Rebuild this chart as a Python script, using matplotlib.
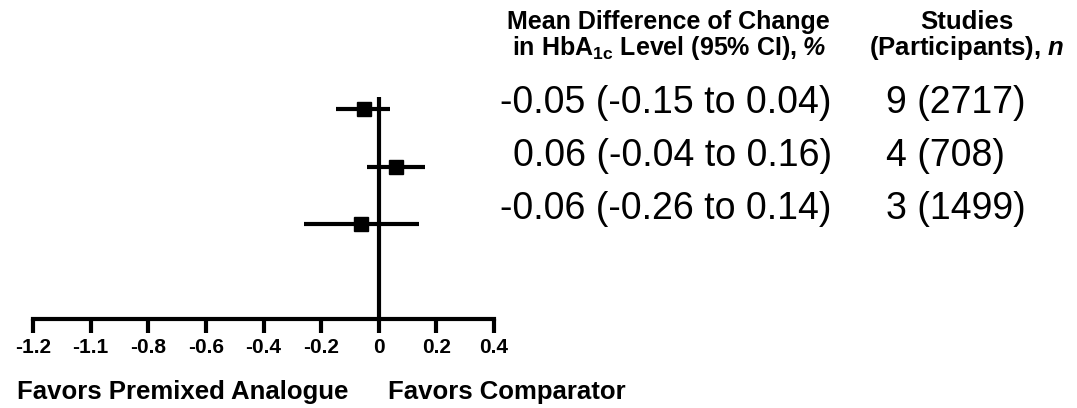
import matplotlib
matplotlib.use("Agg")
import matplotlib.pyplot as plt

plt.rcParams['font.family'] = ['Liberation Sans', 'DejaVu Sans']
plt.rcParams['mathtext.fontset'] = 'custom'
plt.rcParams['mathtext.rm'] = 'Liberation Sans:bold'
plt.rcParams['mathtext.bf'] = 'Liberation Sans:bold'
plt.rcParams['mathtext.it'] = 'Liberation Sans:italic:bold'

# data
means = [-0.05, 0.06, -0.06]
ci_low = [-0.15, -0.04, -0.26]
ci_high = [0.04, 0.16, 0.14]
ci_text = ['-0.05 (-0.15 to 0.04)', '0.06 (-0.04 to 0.16)', '-0.06 (-0.26 to 0.14)']
studies_text = ['9 (2717)', '4 (708)', '3 (1499)']
tick_pos = [-1.2, -1.0, -0.8, -0.6, -0.4, -0.2, 0, 0.2, 0.4]
tick_labels = ['-1.2', '-1.1', '-0.8', '-0.6', '-0.4', '-0.2', '0', '0.2', '0.4']

W, H = 1077, 408
fig = plt.figure(figsize=(W / 100, H / 100), dpi=100)

# axes placed in pixel terms
left, right, top, bottom = 33, 494, 97, 319
ax = fig.add_axes([left / W, 1 - bottom / H, (right - left) / W, (bottom - top) / H])

rows = [1, 2, 3]
xerr = [[m - lo for m, lo in zip(means, ci_low)], [hi - m for m, hi in zip(means, ci_high)]]
ax.errorbar(means, rows, xerr=xerr, fmt='s', color='black', ms=10, lw=3, capsize=0)
ax.axvline(0, color='black', lw=3)

ax.set_xlim(-1.2, 0.4)
ax.set_ylim(4.65, 0.79)
ax.set_xticks(tick_pos)
ax.set_xticklabels(tick_labels, fontsize=15, fontweight='bold')
ax.tick_params(axis='x', length=10, width=3, pad=4)
ax.set_yticks([])
for s in ['top', 'right', 'left']:
    ax.spines[s].set_visible(False)
ax.spines['bottom'].set_linewidth(3)


def px(x, y):
    return x / W, 1 - y / H


# headers
fig.text(*px(668, 22), 'Mean Difference of Change', ha='center', va='center',
         fontsize=18, fontweight='bold')
fig.text(*px(797, 48), r'in HbA$_{\mathbf{1c}}$ Level (95% CI),', ha='right',
         va='center', fontsize=18, fontweight='bold')
fig.text(*px(803, 48), '%', ha='left', va='center', fontsize=18,
         fontweight='bold', style='italic')
fig.text(*px(967, 22), 'Studies', ha='center', va='center', fontsize=18.5, fontweight='bold')
fig.text(*px(967, 48), r'(Participants), $\mathit{n}$', ha='center', va='center',
         fontsize=18.5, fontweight='bold')

# row texts
row_y = [103, 156, 209]
for y, t1, t2 in zip(row_y, ci_text, studies_text):
    fig.text(*px(832, y), t1, ha='right', va='center', fontsize=27)
    fig.text(*px(886, y), t2, ha='left', va='center', fontsize=27)

# favors labels
fig.text(*px(17, 399), 'Favors Premixed Analogue', ha='left', va='baseline',
         fontsize=18.5, fontweight='bold')
fig.text(*px(388, 399), 'Favors Comparator', ha='left', va='baseline',
         fontsize=18.5, fontweight='bold')

fig.savefig('out.png', dpi=100)
